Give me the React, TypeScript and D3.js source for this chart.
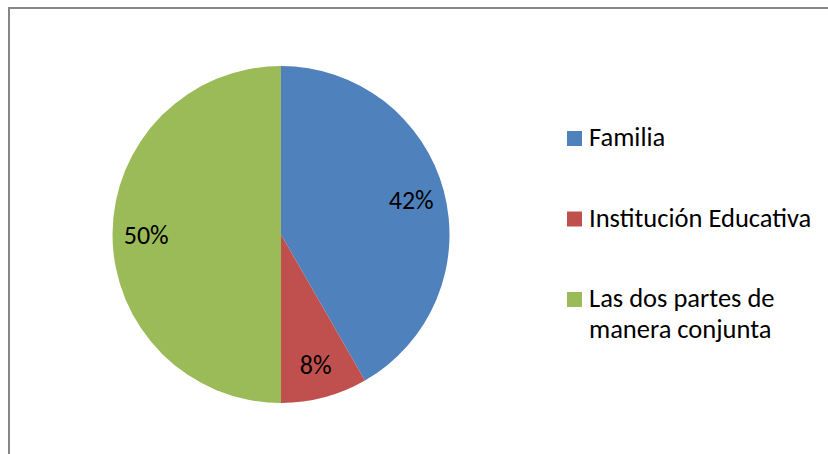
import React from "react";
import * as d3 from "d3";

const categories = ["Familia", "Institución Educativa", "Las dos partes de manera conjunta"];
const values = [41.7, 8.3, 50];
const labels = ["42%", "8%", "50%"];
const legendLines = [["Familia"], ["Institución Educativa"], ["Las dos partes de", "manera conjunta"]];
const colors = ["#4F81BD", "#C0504D", "#9BBB59"];

const W = 828;
const H = 454;
const cx = 281;
const cy = 234.5;
const R = 168.5;
const FONT = "Carlito, Calibri, 'Open Sans', sans-serif";

export default function App() {
  const pie = d3.pie<number>().sort(null).value((d) => d)(values);
  const arc = d3.arc<d3.PieArcDatum<number>>().innerRadius(0).outerRadius(R);
  const labelArc = d3.arc<d3.PieArcDatum<number>>().innerRadius(R * 0.8).outerRadius(R * 0.8);
  const legendY = d3.scaleLinear().domain([0, 2]).range([146, 307]);
  const lineH = 31;

  return (
    <div style={{ position: "absolute", left: 0, top: 0 }}>
      <svg width={W} height={H} style={{ display: "block", background: "#fff" }}>
        <rect x={9} y={8} width={W + 20} height={H + 20} fill="#fff" stroke="#868686" strokeWidth={2} />
        <g transform={`translate(${cx},${cy})`}>
          {pie.map((p, i) => (
            <path key={categories[i]} d={arc(p) || ""} fill={colors[i]} />
          ))}
          {pie.map((p, i) => {
            const [x, y] = labelArc.centroid(p);
            return (
              <text
                key={"l" + i}
                x={x}
                y={y}
                dy="0.35em"
                textAnchor="middle"
                fontFamily={FONT}
                fontSize={26}
                fill="#000"
              >
                {labels[i]}
              </text>
            );
          })}
        </g>
        <g>
          {legendLines.map((lines, i) => {
            const y = legendY(i);
            return (
              <g key={"lg" + i}>
                <rect x={567} y={y - 15} width={15} height={15} fill={colors[i]} />
                {lines.map((t, j) => (
                  <text key={j} x={589} y={y + j * lineH} fontFamily={FONT} fontSize={26.5} fill="#000">
                    {t}
                  </text>
                ))}
              </g>
            );
          })}
        </g>
      </svg>
    </div>
  );
}
